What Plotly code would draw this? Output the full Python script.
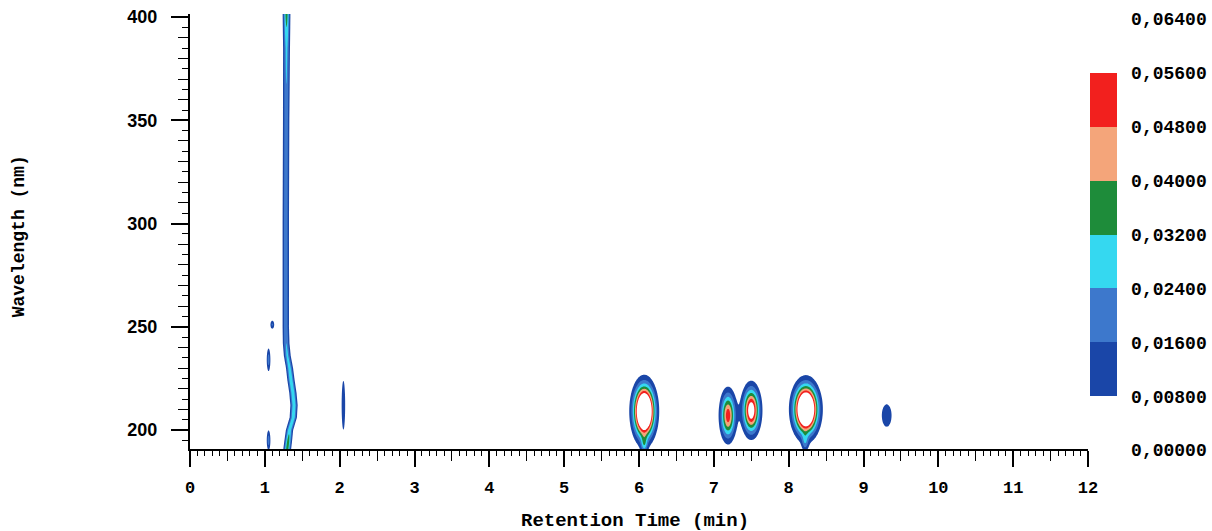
import numpy as np
import plotly.graph_objects as go

# ---- Data -----------------------------------------------------------------
# Isolated peaks: retention time (min), wavelength (nm), height (AU), spreads
PEAK_RT     = [6.07, 6.07, 7.19, 7.50, 8.23, 8.22, 9.31, 2.05, 1.05, 1.05, 1.10]
PEAK_NM     = [209.0, 193.0, 207.0, 209.5, 210.0, 194.0, 207.0, 212.0, 234.0, 195.0, 251.0]
PEAK_HEIGHT = [0.107, 0.020, 0.053, 0.066, 0.105, 0.016, 0.013, 0.016, 0.020, 0.020, 0.018]
PEAK_SD_RT  = [0.088, 0.030, 0.065, 0.073, 0.100, 0.030, 0.066, 0.020, 0.018, 0.018, 0.020]
PEAK_SD_NM  = [7.8, 3.0, 7.2, 7.0, 7.3, 3.0, 5.5, 10.0, 4.0, 3.5, 1.5]

# Solvent front ridge near 1.3 min: path and height along wavelength
FRONT_NM     = [191, 194, 200, 206, 212, 218, 224, 230, 236, 242, 250, 300, 350, 385, 402]
FRONT_RT     = [1.30, 1.31, 1.33, 1.38, 1.39, 1.375, 1.35, 1.33, 1.30, 1.285, 1.28, 1.28, 1.285, 1.29, 1.29]
FRONT_HEIGHT = [0.036, 0.036, 0.030, 0.030, 0.030, 0.030, 0.030, 0.028, 0.026, 0.024, 0.022, 0.022, 0.022, 0.026, 0.036]
FRONT_SD = 0.03

LEVELS = [0.0, 0.008, 0.016, 0.024, 0.032, 0.040, 0.048, 0.056, 0.064]
X_TICKS = list(range(0, 13))
Y_TICKS = [200, 250, 300, 350, 400]

# ---- Grid ------------------------------------------------------------------
x = np.union1d(np.round(np.arange(0, 12.0001, 0.01), 4), np.round(np.arange(0.9, 2.2, 0.003), 4))
y = np.arange(190.0, 403.0, 1.0)
X, Y = np.meshgrid(x, y)
Z = np.zeros_like(X)
for rt, nm, h, sx, sy in zip(PEAK_RT, PEAK_NM, PEAK_HEIGHT, PEAK_SD_RT, PEAK_SD_NM):
    Z += h * np.exp(-0.5 * ((X - rt) / sx) ** 2 - 0.5 * ((Y - nm) / sy) ** 2)
fc = np.interp(y, FRONT_NM, FRONT_RT)[:, None]
fh = np.interp(y, FRONT_NM, FRONT_HEIGHT)[:, None]
Z += fh * np.exp(-0.5 * ((X - fc) / FRONT_SD) ** 2)
Z = Z.astype(np.float32)

db, mb, cy, gr, og, rd = "#1a46a8", "#3d78cc", "#35d8f0", "#1e8c3a", "#f4a57a", "#f2201e"
cscale = [[0, "white"], [0.125, "white"], [0.125, db], [0.25, db], [0.25, mb], [0.375, mb],
          [0.375, cy], [0.5, cy], [0.5, gr], [0.625, gr], [0.625, og], [0.75, og],
          [0.75, rd], [0.875, rd], [0.875, "white"], [1, "white"]]

mono = "Liberation Mono"
fig = go.Figure()
fig.add_trace(go.Contour(
    x=x, y=y, z=Z, zmin=0, zmax=0.064, colorscale=cscale,
    contours=dict(start=0.008, end=0.056, size=0.008, coloring="fill", showlines=False),
    line=dict(width=0), hoverinfo="skip",
    colorbar=dict(x=1.002, xanchor="left", xpad=0, y=-0.0025, yanchor="bottom", ypad=0,
                  len=0.99, lenmode="fraction", thickness=27, outlinewidth=0,
                  tickvals=LEVELS, tickformat=".5f", ticks="outside", ticklen=11,
                  tickcolor="rgba(0,0,0,0)",
                  tickfont=dict(family=mono, size=18, weight="bold", color="black")),
))
fig.add_trace(go.Scatter(x=[None], y=[None], xaxis="x2", yaxis="y2", showlegend=False, hoverinfo="skip"))

fig.update_layout(
    width=1212, height=531, margin=dict(l=190, r=124, t=14, b=82, autoexpand=False),
    plot_bgcolor="white", paper_bgcolor="white", separators=",.", showlegend=False,
    xaxis=dict(range=[0, 12], tickvals=X_TICKS, ticks="outside", ticklen=16, tickwidth=1.5,
               tickcolor="black", showline=True, linewidth=2, linecolor="black",
               showgrid=False, zeroline=False, ticklabelstandoff=6,
               minor=dict(dtick=0.1, ticks="outside", ticklen=5, tickwidth=1, tickcolor="black", showgrid=False),
               tickfont=dict(family=mono, size=17, weight="bold", color="black")),
    yaxis=dict(range=[190.8, 401.5], tickvals=Y_TICKS, ticks="outside", ticklen=17, tickwidth=1.5,
               tickcolor="black", showline=True, linewidth=2, linecolor="black",
               showgrid=False, zeroline=False, ticklabelstandoff=10,
               minor=dict(dtick=5, ticks="outside", ticklen=6, tickwidth=1, tickcolor="black", showgrid=False),
               tickfont=dict(family="Liberation Sans", size=18, weight="bold", color="black")),
    xaxis2=dict(overlaying="x", anchor="y", side="bottom", range=[0, 12],
                tickvals=[k + 0.5 for k in range(12)], ticks="outside", ticklen=11, tickwidth=1,
                tickcolor="black", showticklabels=False, showline=False, showgrid=False, zeroline=False),
    yaxis2=dict(overlaying="y", anchor="x", side="left", range=[190.8, 401.5],
                tickvals=[v for v in range(210, 401, 10) if v % 50], ticks="outside", ticklen=11,
                tickwidth=1, tickcolor="black", showticklabels=False, showline=False,
                showgrid=False, zeroline=False),
    annotations=[
        dict(text="Retention Time (min)", xref="paper", yref="paper", x=0.4955, y=-0.165,
             xanchor="center", yanchor="middle", showarrow=False,
             font=dict(family=mono, size=19, weight="bold", color="black")),
        dict(text="Wavelength (nm)", xref="paper", yref="paper", x=-0.191, y=0.49,
             xanchor="center", yanchor="middle", showarrow=False, textangle=-90,
             font=dict(family=mono, size=18, weight="bold", color="black")),
    ],
)
fig.write_html("out.html")
